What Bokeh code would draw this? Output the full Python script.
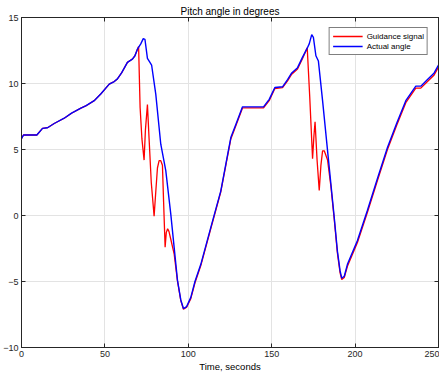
from bokeh.plotting import figure
from bokeh.models import LinearAxis, Range1d, Legend, LegendItem, FixedTicker
from bokeh.embed import file_html
from bokeh.resources import INLINE

# ---- data ----
x_ticks = [0, 50, 100, 150, 200, 250]
y_ticks = [-10, -5, 0, 5, 10, 15]

t_actual = [0, 1.2, 9.2, 12.6, 15.6, 19.6, 25.6, 30, 35.6, 38.5, 43.6, 47.5, 52.6, 55.6,
            57.5, 60, 63.5, 66.5, 68, 69.5, 71.5, 73, 74, 75.5, 77, 78, 80.5, 83.5, 86.5,
            89.5, 93.5, 95.5, 97.1, 99, 101.5, 104, 107.5, 113.5, 119.5, 122.5, 125.5,
            128.5, 132.5, 145.1, 148.5, 151.9, 156.5, 159.5, 162, 165.5, 168.5, 171,
            172.5, 174, 175, 176.5, 178, 180.5, 183.5, 187.5, 189.4, 191, 192, 193.5,
            195.4, 201.4, 207.4, 213.4, 219.4, 225, 230.4, 236.4, 239.4, 243.4, 247.4, 250]
actual_angle = [5.83, 6.1, 6.1, 6.6, 6.65, 6.97, 7.37, 7.75, 8.13, 8.3, 8.7, 9.2, 9.95, 10.15,
                10.35, 10.8, 11.6, 11.85, 12.1, 12.6, 13.0, 13.4, 13.35, 11.9, 11.6, 11.4,
                9.2, 5.4, 3.4, 0.1, -4.9, -6.4, -7.05, -6.9, -6.2, -5.0, -3.7, -0.9, 1.87,
                3.9, 5.9, 6.9, 8.23, 8.23, 8.8, 9.7, 9.75, 10.3, 10.8, 11.2, 12.0, 12.6,
                13.0, 13.7, 13.5, 12.1, 11.7, 8.7, 4.9, -0.15, -2.7, -4.2, -4.75, -4.6,
                -3.7, -1.9, 0.4, 2.8, 5.15, 7.0, 8.7, 9.8, 9.8, 10.3, 10.8, 11.4]

t_guidance = [0, 1.2, 9.2, 12.6, 15.6, 19.6, 25.6, 30, 35.6, 38.5, 43.6, 47.5, 52.6, 55.6,
              57.5, 60, 63.5, 66.5, 68, 69.5, 70.2, 71.1, 72.2, 73.5, 74.3, 75.5, 76.5,
              77.8, 79.5, 80.5, 81.5, 82.5, 83.5, 84.5, 85.2, 86.1, 86.8, 87.6, 88.4, 89.5,
              91.5, 93.5, 95.5, 97.1, 99, 101.5, 104, 107.5, 113.5, 119.5, 122.5, 125.5,
              128.5, 132.5, 145.1, 148.5, 151.9, 156.5, 159.5, 162, 165.5, 168.5, 171.3,
              172.8, 174.5, 175.3, 176, 177.2, 178.5, 179.5, 180.5, 181.5, 183.5, 185.5,
              187.5, 189.4, 191, 192, 193.5, 195.4, 201.4, 207.4, 213.4, 219.4, 225, 230.4,
              236.4, 239.4, 243.4, 247.4, 250]
guidance_signal = [5.83, 6.1, 6.1, 6.6, 6.65, 6.97, 7.37, 7.75, 8.13, 8.3, 8.7, 9.2, 9.95,
                   10.15, 10.35, 10.8, 11.6, 11.85, 12.1, 12.6, 12.8, 8.2, 5.8, 4.2, 6.5,
                   8.4, 5.8, 2.5, -0.05, 1.8, 3.6, 4.15, 4.15, 3.8, 1.0, -2.4, -1.3, -1.0,
                   -1.2, -1.8, -2.9, -4.95, -6.45, -7.1, -6.95, -6.3, -5.1, -3.8, -1.0, 1.8,
                   3.8, 5.8, 6.8, 8.15, 8.15, 8.7, 9.62, 9.68, 10.2, 10.7, 11.1, 11.9, 12.7,
                   9.0, 4.3, 6.0, 7.1, 4.2, 1.9, 3.8, 4.9, 4.9, 4.2, 2.2, -0.3, -2.85, -4.35,
                   -4.85, -4.7, -3.85, -2.05, 0.25, 2.65, 5.0, 6.85, 8.55, 9.65, 9.65, 10.15,
                   10.65, 11.25]

FONT = "Liberation Sans"
DARK = "#262626"

p = figure(frame_width=417, frame_height=330, output_backend="svg", toolbar_location=None,
           x_range=Range1d(0, 250), y_range=Range1d(-10, 15),
           min_border_left=19, min_border_right=1, min_border_top=17, min_border_bottom=24)

p.title.text = "Pitch angle in degrees"
p.title.align = "center"
p.title.text_font = FONT
p.title.text_font_size = "10px"
p.title.text_font_style = "normal"
p.title.text_color = "#000000"
p.title.standoff = 2

r_g = p.line(t_guidance, guidance_signal, line_color="#ff0000", line_width=1.3)
r_a = p.line(t_actual, actual_angle, line_color="#0000ff", line_width=1.4)


def style_axis(ax, ticks, labels=True):
    ax.ticker = FixedTicker(ticks=ticks)
    ax.axis_line_color = DARK
    ax.axis_line_width = 1
    ax.major_tick_in = 4
    ax.major_tick_out = 0
    ax.major_tick_line_color = DARK
    ax.minor_tick_line_color = None
    ax.major_label_text_font = FONT
    if labels:
        ax.major_label_text_font_size = "9px"
        ax.major_label_text_color = DARK
        ax.major_label_standoff = 3
    else:
        ax.major_label_text_font_size = "1px"
        ax.major_label_text_color = None
        ax.major_label_standoff = 0


xa = p.xaxis[0]
style_axis(xa, x_ticks)
xa.axis_label = "Time, seconds"
xa.axis_label_text_font = FONT
xa.axis_label_text_font_size = "9.5px"
xa.axis_label_text_font_style = "normal"
xa.axis_label_text_color = "#000000"
xa.axis_label_standoff = 1

ya = p.yaxis[0]
style_axis(ya, y_ticks)

top = LinearAxis()
style_axis(top, x_ticks, labels=False)
p.add_layout(top, "above")

right = LinearAxis()
style_axis(right, y_ticks, labels=False)
p.add_layout(right, "right")

p.xgrid.ticker = FixedTicker(ticks=x_ticks)
p.ygrid.ticker = FixedTicker(ticks=y_ticks)
p.grid.grid_line_color = "#e3e3e3"
p.grid.grid_line_width = 1
p.outline_line_color = DARK

legend = Legend(items=[LegendItem(label="Guidance signal", renderers=[r_g]),
                       LegendItem(label="Actual angle", renderers=[r_a])],
                location="top_right")
legend.margin = 10
legend.padding = 3
legend.spacing = 0
legend.glyph_width = 30
legend.glyph_height = 10
legend.label_height = 10
legend.label_standoff = 4
legend.label_text_font = FONT
legend.label_text_font_size = "8px"
legend.label_text_color = "#000000"
legend.border_line_color = "#000000"
legend.border_line_width = 1
legend.background_fill_alpha = 1
p.add_layout(legend)

open("out.html", "w").write(file_html(p, INLINE))
